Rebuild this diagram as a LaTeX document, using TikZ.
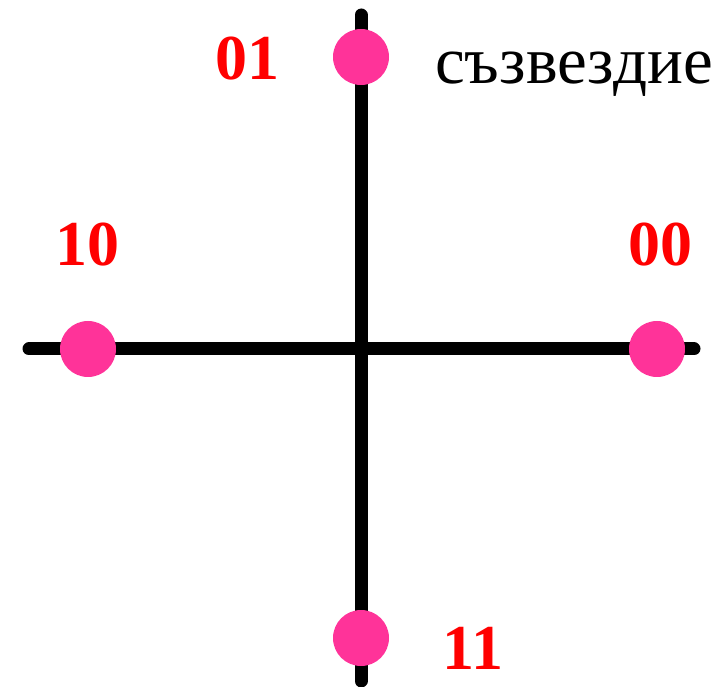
\documentclass[tikz,border=0pt]{standalone}
\usepackage{fontspec}
\setmainfont{Liberation Serif}
\begin{document}
\begin{tikzpicture}[x=1pt,y=-1pt,
  axis/.style={line width=13pt,line cap=round,black},
  dot/.style={circle,fill={rgb,255:red,255;green,51;blue,153},minimum size=56pt,inner sep=0pt},
  lbl/.style={text=red,font=\fontsize{64}{64}\selectfont\bfseries,inner sep=0pt},
  title/.style={text=black,font=\fontsize{67}{67}\selectfont,inner sep=0pt,anchor=base}]
\useasboundingbox (0,0) rectangle (724,687);
\coordinate (L) at (29,349);
\coordinate (R) at (694,349);
\coordinate (T) at (361,15);
\coordinate (B) at (361,681);
\draw[axis] (L) -- (R);
\draw[axis] (T) -- (B);
\node[dot] (d01) at (361,57) {};
\node[dot] (d10) at (88,349) {};
\node[dot] (d00) at (657,349) {};
\node[dot] (d11) at (361,638) {};
\node[lbl] (l01) at (247,59) {01};
\node[lbl] (l10) at (88,245) {10};
\node[lbl] (l00) at (660,245) {00};
\node[lbl] (l11) at (473,648) {11};
\node[title] (t) at (574,84) {съзвездие};
\end{tikzpicture}
\end{document}
